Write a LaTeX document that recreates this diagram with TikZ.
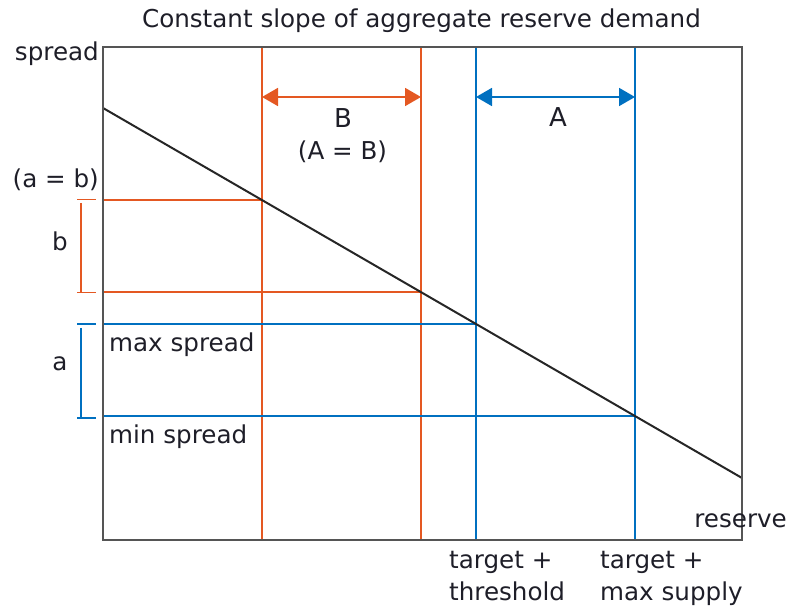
\documentclass[tikz,border=0pt]{standalone}
\usepackage{fontspec}
\setmainfont{DejaVu Sans}
\usetikzlibrary{arrows.meta}
\definecolor{framegray}{RGB}{85,85,85}
\definecolor{orng}{RGB}{228,88,34}
\definecolor{blu}{RGB}{0,112,192}
\definecolor{txt}{RGB}{30,30,40}
\begin{document}
\begin{tikzpicture}[x=1pt,y=-1pt,
  font=\fontsize{24.6}{31}\selectfont,
  lbl/.style={inner sep=0pt, text=txt},
  framestyle/.style={draw=framegray, line width=2pt},
  orline/.style={draw=orng, line width=1.8pt},
  blline/.style={draw=blu, line width=1.8pt},
  dimarrow/.style={line width=1.8pt, {Triangle[length=16pt,width=18pt]}-{Triangle[length=16pt,width=18pt]}},
  curve/.style={draw=black!85, line width=2pt}]
\useasboundingbox (0,0) rectangle (790,609);
% frame corners
\coordinate (TL) at (103,47);
\coordinate (BR) at (742,540);
% demand line end points and intersections
\coordinate (D0) at (103,108);
\coordinate (D1) at (742,478);
\coordinate (P1) at (262,200.1);
\coordinate (P2) at (421,292.1);
\coordinate (P3) at (476,324);
\coordinate (P4) at (635,416);
% vertical line ends
\coordinate (V1t) at (262,47); \coordinate (V1b) at (262,540);
\coordinate (V2t) at (421,47); \coordinate (V2b) at (421,540);
\coordinate (V3t) at (476,47); \coordinate (V3b) at (476,540);
\coordinate (V4t) at (635,47); \coordinate (V4b) at (635,540);
% horizontal line starts
\coordinate (H1) at (103,200.1);
\coordinate (H2) at (103,292.1);
\coordinate (H3) at (103,324);
\coordinate (H4) at (103,416);
% verticals
\draw[orline] (V1t) -- (V1b);
\draw[orline] (V2t) -- (V2b);
\draw[blline] (V3t) -- (V3b);
\draw[blline] (V4t) -- (V4b);
% horizontals
\draw[orline] (H1) -- (P1);
\draw[orline] (H2) -- (P2);
\draw[blline] (H3) -- (P3);
\draw[blline] (H4) -- (P4);
% demand line
\draw[curve] (D0) -- (D1);
% frame
\draw[framestyle] (TL) rectangle (BR);
% dimension arrows
\coordinate (Ba) at (262,97); \coordinate (Bb) at (421,97);
\coordinate (Aa) at (476,97); \coordinate (Ab) at (635,97);
\draw[dimarrow, orng, fill=orng] (Ba) -- (Bb);
\draw[dimarrow, blu, fill=blu] (Aa) -- (Ab);
% brackets
\coordinate (b1) at (77,199.5); \coordinate (b2) at (96,199.5);
\coordinate (b3) at (81,203); \coordinate (b4) at (81,292.5); \coordinate (b5) at (96,292.5);
\draw[orline] (b1) -- (b2);
\draw[orline] (b3) -- (b4) -- (b5);
\draw[orline] (b4) -- ++(-4,0);
\coordinate (a1) at (77,324); \coordinate (a2) at (96,324);
\coordinate (a3) at (81,328); \coordinate (a4) at (81,418); \coordinate (a5) at (96,418);
\draw[blline] (a1) -- (a2);
\draw[blline] (a3) -- (a4) -- (a5);
\draw[blline] (a4) -- ++(-4,0);
% texts
\node[lbl, anchor=base] (title) at (421.5,28) {Constant slope of aggregate reserve demand};
\node[lbl, anchor=base east] (spread) at (99,61) {spread};
\node[lbl, anchor=base east] (aeqb) at (99,188) {(a = b)};
\node[lbl, anchor=base, font=\fontsize{26}{31}\selectfont] (Blab) at (343,128) {B};
\node[lbl, anchor=base] (AeqB) at (342.5,160) {(A = B)};
\node[lbl, anchor=base, font=\fontsize{26}{31}\selectfont] (Alab) at (558,127) {A};
\node[lbl, anchor=base] (blab) at (60,251) {b};
\node[lbl, anchor=base] (alab) at (60,371) {a};
\node[lbl, anchor=base west] (maxs) at (109,352) {max spread};
\node[lbl, anchor=base west] (mins) at (109,443) {min spread};
\node[lbl, anchor=base east] (res) at (787,527) {reserve};
\node[lbl, anchor=base west] (t1a) at (449,568) {target +};
\node[lbl, anchor=base west] (t1b) at (449,600) {threshold};
\node[lbl, anchor=base west] (t2a) at (600,568) {target +};
\node[lbl, anchor=base west] (t2b) at (600,600) {max supply};
\end{tikzpicture}
\end{document}
